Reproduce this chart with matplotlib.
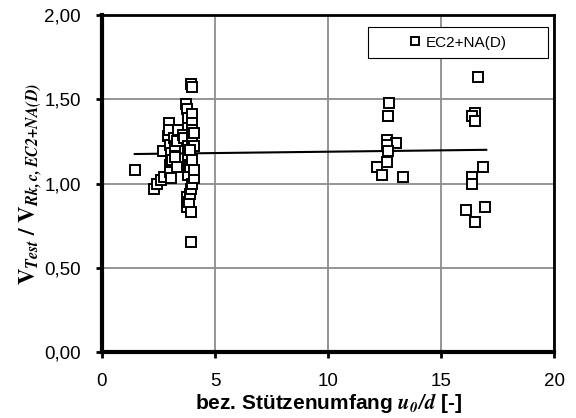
import numpy as np
import matplotlib.pyplot as plt
from matplotlib.patches import Rectangle

plt.rcParams['font.family'] = ['Liberation Sans', 'DejaVu Sans']
plt.rcParams['mathtext.fontset'] = 'stix'

# Versuchsdaten: bez. Stützenumfang u0/d und Verhältnis V_Test / V_Rk,c
u0d = [1.45,
       2.3, 2.45, 2.6, 2.7, 2.75, 2.9, 2.95, 2.95, 3.0, 3.0, 3.0, 3.05, 3.05,
       3.1, 3.2, 3.25, 3.25, 3.3, 3.35, 3.3, 3.6, 3.65, 3.7, 3.75, 3.8, 3.8,
       3.8, 3.8, 3.8, 3.75, 3.75, 3.85, 3.9, 3.9, 3.95, 3.95, 3.95, 3.95, 4.0,
       4.0, 4.0, 4.0, 4.0, 4.05, 4.0, 4.05, 4.05, 3.9, 4.0, 4.05,
       12.7, 12.65, 12.6, 13.0, 12.6, 12.65, 12.6, 12.15, 12.4, 13.3,
       16.65, 16.5, 16.35, 16.5, 16.87, 16.37, 16.37, 16.95, 16.1, 16.5]
ratio = [1.08,
         0.97, 1.00, 1.02, 1.19, 1.04, 1.28, 1.36, 1.32, 1.23, 1.11, 1.07, 1.03, 1.18,
         1.14, 1.27, 1.22, 1.16, 1.10, 1.32, 1.25, 1.29, 1.27, 1.47, 1.44, 1.39, 1.22,
         1.16, 1.11, 1.05, 0.92, 0.86, 0.89, 0.94, 1.10, 0.83, 0.97, 0.65, 1.59, 1.57,
         1.41, 1.36, 1.32, 1.26, 1.22, 1.00, 1.03, 1.30, 1.20, 1.14, 1.08,
         1.48, 1.40, 1.26, 1.24, 1.23, 1.19, 1.13, 1.10, 1.05, 1.04,
         1.63, 1.42, 1.40, 1.37, 1.10, 1.04, 1.00, 0.86, 0.84, 0.77]

# Trendlinie
trend_x = [1.45, 17.0]
trend_y = [1.175, 1.20]

xticks = [0, 5, 10, 15, 20]
yticks = [0.0, 0.5, 1.0, 1.5, 2.0]
ytick_labels = ['0,00', '0,50', '1,00', '1,50', '2,00']

fig = plt.figure(figsize=(5.76, 4.18), dpi=100)
ax = fig.add_axes([0.177, 0.158, 0.785, 0.806])

ax.plot(u0d, ratio, 's', ms=6.5, mfc='white', mec='black', mew=1.4,
        label='EC2+NA(D)', zorder=3)
ax.plot(trend_x, trend_y, '-', color='black', lw=1.5, zorder=2)

ax.set_xlim(0, 20)
ax.set_ylim(0, 2)
ax.set_xticks(xticks)
ax.set_yticks(yticks)
ax.set_yticklabels(ytick_labels)
ax.tick_params(labelsize=13.5, length=4, width=2, direction='out', pad=11)
ax.grid(True, color='#8c8c8c', lw=1.3)
ax.set_axisbelow(True)

for side in ['left', 'bottom']:
    ax.spines[side].set_linewidth(3)
for side in ['top', 'right']:
    ax.spines[side].set_linewidth(2)

ax.set_xlabel(r'bez. Stützenumfang $\mathbfit{u_0/d}$ [-]',
              fontsize=15, fontweight='bold', labelpad=1)
ax.set_ylabel(r'$\mathbf{V}_{\mathbfit{Test}}\ \mathbf{/}\ \mathbf{V}_{\mathbfit{Rk,c,EC2{+}NA(D)}}$',
              fontsize=16.5, labelpad=0)

# Legendenrahmen
ax.add_patch(Rectangle((0.588, 0.872), 0.399, 0.092, transform=ax.transAxes,
                       facecolor='white', edgecolor='black', lw=0.8,
                       zorder=4, clip_on=False))
ax.legend(loc='center', bbox_to_anchor=(0.787, 0.918), frameon=False,
          fontsize=11, handlelength=0.8, handletextpad=0.3,
          markerscale=0.8, borderpad=0)

fig.savefig('out.png', dpi=100)
